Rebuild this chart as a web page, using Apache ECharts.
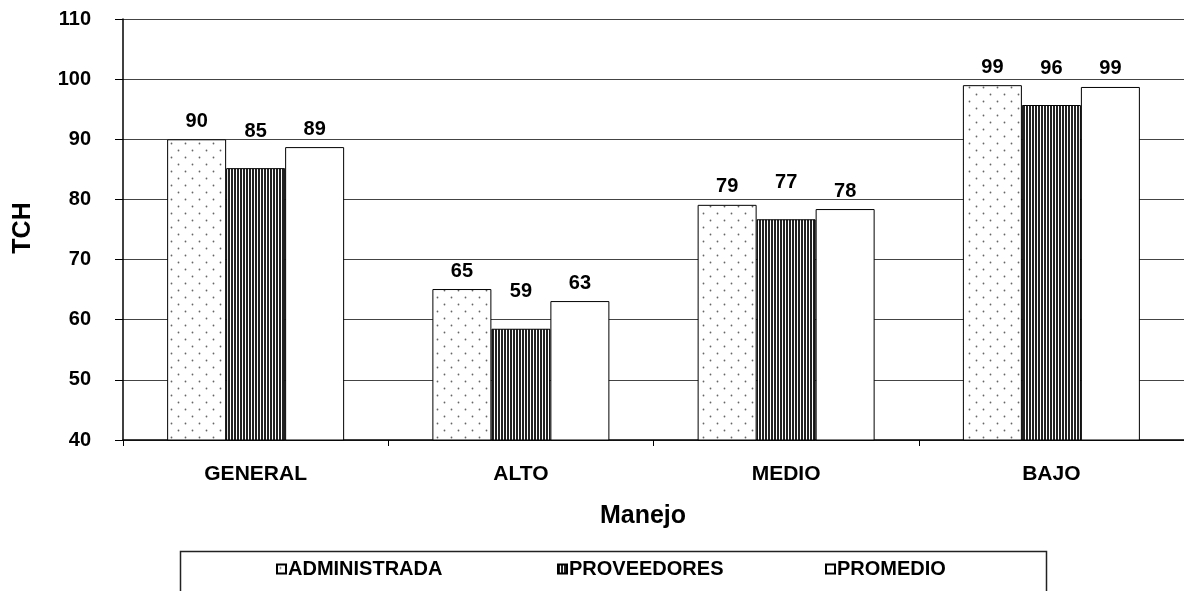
<!DOCTYPE html>
<html>
<head>
<meta charset="utf-8">
<script src="https://cdn.jsdelivr.net/npm/echarts@6/dist/echarts.min.js"></script>
<style>
html,body{margin:0;padding:0;background:#fff;}
#main{width:1184px;height:591px;}
</style>
</head>
<body>
<div id="main"></div>
<script>
const categories = ['GENERAL', 'ALTO', 'MEDIO', 'BAJO'];
const seriesNames = ['ADMINISTRADA', 'PROVEEDORES', 'PROMEDIO'];
const administrada = [90.0, 65.1, 79.1, 99.0];
const proveedores = [85.2, 58.5, 76.7, 95.7];
const promedio = [88.7, 63.1, 78.4, 98.7];
const yTicks = {min: 40, max: 110, interval: 10};

const FONT = "'Liberation Sans', Arial, sans-serif";

function dotPattern() {
  const c = document.createElement('canvas');
  c.width = 14; c.height = 14;
  const g = c.getContext('2d');
  g.fillStyle = '#fff'; g.fillRect(0, 0, 14, 14);
  g.fillStyle = '#666';
  g.beginPath(); g.arc(3.5, 3.5, 0.9, 0, Math.PI * 2); g.fill();
  g.beginPath(); g.arc(10.5, 10.5, 0.9, 0, Math.PI * 2); g.fill();
  return c;
}
function stripePattern() {
  const c = document.createElement('canvas');
  c.width = 3; c.height = 4;
  const g = c.getContext('2d');
  g.fillStyle = '#fff'; g.fillRect(0, 0, 3, 4);
  g.fillStyle = '#222'; g.fillRect(0, 0, 2, 4);
  return c;
}

const chart = echarts.init(document.getElementById('main'), null, {renderer: 'canvas'});

const labelStyle = (dist) => ({
  show: true, position: 'top', distance: dist,
  formatter: p => Math.round(p.value),
  color: '#000', fontWeight: 'bold', fontSize: 20, fontFamily: FONT
});

const legendBase = (left, name) => ({
  data: [name], left: left, top: 559, padding: 0,
  itemWidth: 9, itemHeight: 9, itemGap: 0,
  icon: 'rect', selectedMode: false,
  textStyle: {color: '#000', fontWeight: 'bold', fontSize: 20, fontFamily: FONT, padding: [0, 0, 0, -3]}
});

const option = {
  animation: false,
  backgroundColor: '#fff',
  grid: {left: 123, top: 19, width: 1065, height: 421, containLabel: false},
  xAxis: {
    type: 'category', data: categories,
    axisLine: {lineStyle: {color: '#000', width: 1.5}},
    axisTick: {show: true, length: 6, lineStyle: {color: '#000'}},
    axisLabel: {margin: 24, color: '#000', fontWeight: 'bold', fontSize: 21, fontFamily: FONT},
    splitLine: {show: false}
  },
  yAxis: {
    type: 'value', min: yTicks.min, max: yTicks.max, interval: yTicks.interval,
    axisLine: {show: true, lineStyle: {color: '#000', width: 1.5}},
    axisTick: {show: true, length: 8, lineStyle: {color: '#000'}},
    axisLabel: {margin: 32, color: '#000', fontWeight: 'bold', fontSize: 20, fontFamily: FONT},
    splitLine: {show: true, lineStyle: {color: '#444', width: 1.2}}
  },
  legend: [
    legendBase(276, seriesNames[0]),
    legendBase(557, seriesNames[1]),
    legendBase(825, seriesNames[2])
  ],
  graphic: [
    {type: 'rect', left: 178, top: 549, shape: {width: 866, height: 60},
     style: {fill: 'none', stroke: '#222', lineWidth: 1.5}, z: 0},
    {type: 'text', x: 23, y: 228, rotation: Math.PI / 2,
     style: {text: 'TCH', align: 'center', verticalAlign: 'middle', fill: '#000',
             font: "bold 25px " + FONT}},
    {type: 'text', x: 643, y: 516,
     style: {text: 'Manejo', align: 'center', verticalAlign: 'middle', fill: '#000',
             font: "bold 25px " + FONT}}
  ],
  series: [
    {name: seriesNames[0], type: 'bar', data: administrada, barWidth: 59, barGap: '0%',
     itemStyle: {color: {image: dotPattern(), repeat: 'repeat'}, borderColor: '#000', borderWidth: 1},
     label: labelStyle(8)},
    {name: seriesNames[1], type: 'bar', data: proveedores, barWidth: 59, barGap: '0%',
     itemStyle: {color: {image: stripePattern(), repeat: 'repeat'}, borderColor: '#000', borderWidth: 1},
     label: labelStyle(27)},
    {name: seriesNames[2], type: 'bar', data: promedio, barWidth: 59, barGap: '0%',
     itemStyle: {color: '#fff', borderColor: '#000', borderWidth: 1},
     label: labelStyle(8)}
  ]
};
chart.setOption(option);
</script>
</body>
</html>
